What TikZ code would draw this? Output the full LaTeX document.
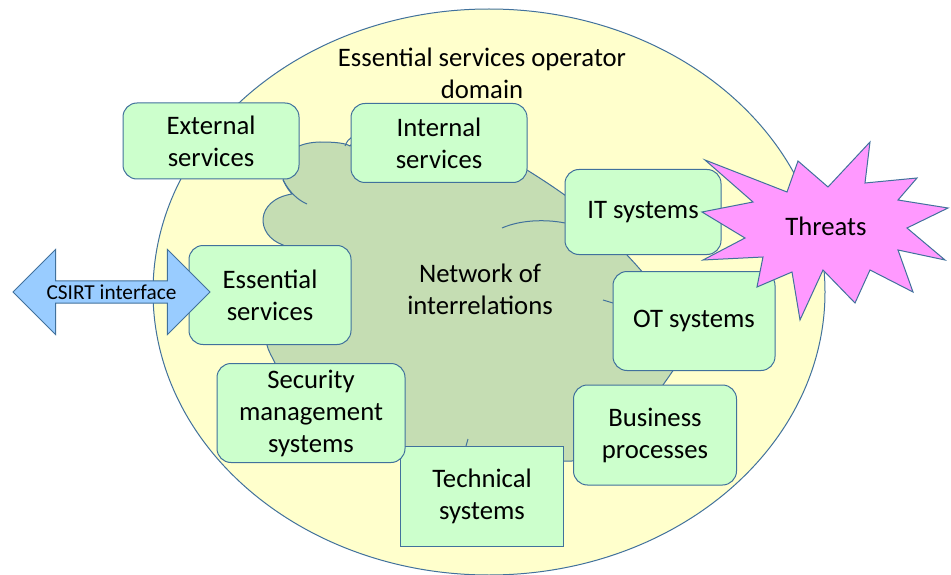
\documentclass[tikz,border=0pt]{standalone}
\usepackage{fontspec}
\setmainfont{Carlito}
\usetikzlibrary{shapes.geometric,shapes.arrows}
\definecolor{lineblue}{HTML}{41719C}
\definecolor{domainyellow}{HTML}{FFFFCC}
\definecolor{boxgreen}{HTML}{CCFFCC}
\definecolor{cloudgreen}{HTML}{C5DDB3}
\definecolor{arrowblue}{HTML}{99CCFF}
\definecolor{threatpink}{HTML}{FF99FF}

\begin{document}
\begin{tikzpicture}[x=1pt, y=-1pt,
  every node/.style = {align=center, inner sep=0pt,
    font=\fontsize{26.7}{32}\selectfont},
  box/.style = {shape=rectangle, rounded corners=14pt,
    draw=lineblue, line width=1pt, fill=boxgreen},
  plainbox/.style = {shape=rectangle,
    draw=lineblue, line width=1pt, fill=boxgreen},
  cloudline/.style = {draw=lineblue, line width=1pt}]
  \useasboundingbox (0,0) rectangle (951,575);
  % operator domain and the network cloud
  \node[ellipse, draw=lineblue, line width=1pt, fill=domainyellow,
    minimum width=672pt, minimum height=566pt] (domain) at (489,292) {};
  \node (title) at (482,73) {Essential services operator\\domain};
  \draw[cloudline, fill=cloudgreen]
    (283,245) .. controls (255,235) and (255,200) .. (292,194)
    .. controls (272,172) and (280,143) .. (320,142)
    .. controls (335,142) and (345,143) .. (350,146)
    .. controls (385,100) and (470,125) .. (527,170)
    .. controls (575,200) and (600,220) .. (627,255)
    .. controls (660,290) and (700,340) .. (672,372)
    .. controls (668,378) and (665,382) .. (663,385)
    .. controls (650,430) and (610,462) .. (568,461)
    .. controls (530,462) and (480,460) .. (470,448)
    .. controls (440,470) and (400,460) .. (390,440)
    .. controls (330,440) and (290,400) .. (275,363)
    .. controls (271,355) and (268,350) .. (267,345)
    .. controls (250,310) and (255,270) .. (283,245) -- cycle;
  \draw[cloudline] (283,180) .. controls (290,193) and (298,200) .. (307,204);
  \draw[cloudline] (345,146) .. controls (347,141) and (349,139) .. (352,137);
  \draw[cloudline] (502,228) .. controls (520,220) and (545,219) .. (565,223);
  \draw[cloudline] (603,300) -- (613,303);
  \draw[cloudline] (466,446) -- (468,439);
  \node (netlabel) at (480,289) {Network of\\interrelations};
  % parts of the operator
  \node[box, minimum width=176pt, minimum height=76pt] (ext) at (211,141) {External\\services};
  \node[box, minimum width=176pt, minimum height=79pt] (int) at (439,143) {Internal\\services};
  \node[box, minimum width=156pt, minimum height=85pt] (it) at (643,212) {IT systems};
  \node[box, minimum width=162pt, minimum height=99pt] (ess) at (270,295) {Essential\\services};
  \node[box, minimum width=162pt, minimum height=99pt] (ot) at (694,321) {OT systems};
  \node[plainbox, minimum width=163pt, minimum height=100pt] (tech) at (482,496) {Technical\\systems};
  \node[box, minimum width=188pt, minimum height=99pt] (sec) at (311,413) {Security\\management\\systems};
  \node[box, minimum width=163pt, minimum height=100pt] (bus) at (655,435) {Business\\processes};
  % interface and threats
  \node[double arrow, draw=lineblue, line width=1pt, fill=arrowblue,
    minimum height=197pt, minimum width=85pt, double arrow head extend=22pt,
    font=\fontsize{21.3}{25}\selectfont] (csirt) at (111.5,292) {CSIRT interface};
  \draw[draw=lineblue, line width=1pt, fill=threatpink]
    (702,212) -- (753,202) -- (705,160) -- (787,192) -- (798,161)
    -- (828,187) -- (870,142) -- (865,183) -- (917,178) -- (898,200)
    -- (948,208) -- (907,228) -- (945,260) -- (898,250) -- (913,292)
    -- (870,270) -- (855,303) -- (823,270) -- (800,320) -- (792,272)
    -- (757,287) -- (763,257) -- (703,260) -- (745,238) -- cycle;
  \node (threats) at (826,226) {Threats};
\end{tikzpicture}
\end{document}
